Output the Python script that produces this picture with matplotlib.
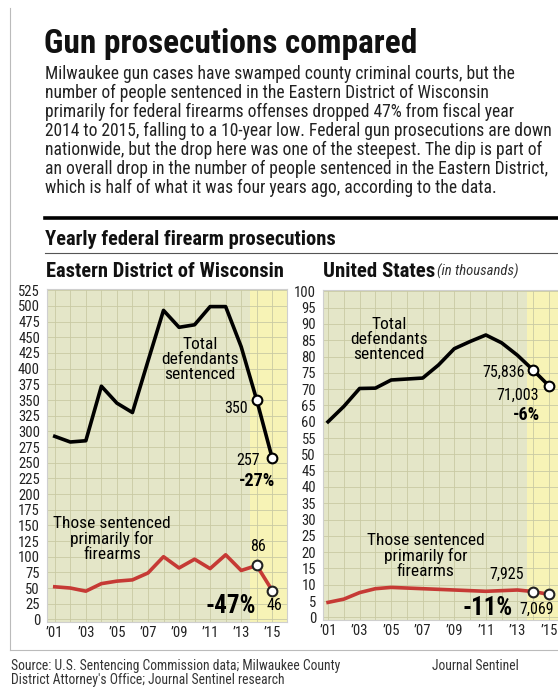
import matplotlib
matplotlib.use("Agg")
import matplotlib.pyplot as plt
from matplotlib.lines import Line2D
from matplotlib import font_manager

names = {f.name for f in font_manager.fontManager.ttflist}
family = [n for n in ["Roboto Condensed", "Liberation Sans Narrow", "DejaVu Sans Condensed",
                      "Roboto", "DejaVu Sans"] if n in names]
plt.rcParams['font.family'] = family

years = list(range(2001, 2016))
tick_years = [2001, 2003, 2005, 2007, 2009, 2011, 2013, 2015]
tick_labels = ["\u201901", "\u201903", "\u201905", "\u201907", "\u201909", "\u201911", "\u201913", "\u201915"]

# Eastern District of Wisconsin
ed_total = [292, 283, 285, 372, 345, 330, 412, 493, 466, 470, 499, 499, 435, 350, 257]
ed_firearms = [52, 50, 45, 57, 61, 63, 74, 100, 82, 96, 81, 103, 78, 86, 46]

# United States, in thousands
us_total = [60.0, 64.7, 70.2, 70.3, 72.8, 73.1, 73.4, 77.4, 82.4, 84.6, 86.6, 84.2, 80.4, 75.836, 71.003]
us_firearms = [4.6, 5.6, 7.6, 8.8, 9.2, 9.0, 8.8, 8.6, 8.4, 8.2, 8.0, 8.2, 8.4, 7.925, 7.069]

W, H = 558, 690
BG = "#e4e6c8"
HL = "#f7f3b6"
GRID = "#c9caa3"
RED = "#c63a35"


def fx(px):
    return px / W


def fy(py):
    return 1 - py / H


fig = plt.figure(figsize=(W / 100, H / 100), dpi=100)
fig.patch.set_facecolor("white")
renderer = fig.canvas.get_renderer()


def fit(txt, width_px):
    # shrink or grow a text so it spans the width seen in the picture
    for _ in range(2):
        bb = txt.get_window_extent(renderer)
        txt.set_fontsize(txt.get_fontsize() * width_px / bb.width)
    return txt


# frame lines
fig.add_artist(Line2D([fx(10), fx(10)], [fy(8), fy(650)], color="#bbbbbb", lw=0.8))
fig.add_artist(Line2D([fx(10), fx(558)], [fy(650), fy(650)], color="#bbbbbb", lw=0.8))
fig.add_artist(Line2D([fx(45), fx(558)], [fy(218), fy(218)], color="black", lw=2.6))
fig.add_artist(Line2D([fx(45), fx(558)], [fy(253), fy(253)], color="#555555", lw=0.8))

t = fig.text(fx(44), fy(53), "Gun prosecutions compared", fontsize=27, fontweight="bold",
             color="#111111", va="baseline")
fit(t, 374)

body = ["Milwaukee gun cases have swamped county criminal courts, but the",
        "number of people sentenced in the Eastern District of Wisconsin",
        "primarily for federal firearms offenses dropped 47% from fiscal year",
        "2014 to 2015, falling to a 10-year low. Federal gun prosecutions are down",
        "nationwide, but the drop here was one of the steepest. The dip is part of",
        "an overall drop in the number of people sentenced in the Eastern District,",
        "which is half of what it was four years ago, according to the data."]
t = fig.text(fx(45), fy(64), body[3], fontsize=10.6, color="#222222", va="top")
fit(t, 508)
bsize = t.get_fontsize()
t.remove()
for i, line in enumerate(body):
    fig.text(fx(45), fy(79 + i * 19), line, fontsize=bsize, color="#222222",
             va="baseline")

t = fig.text(fx(45), fy(245), "Yearly federal firearm prosecutions", fontsize=14,
             fontweight="bold", color="#111111", va="baseline")
fit(t, 290)
t = fig.text(fx(46), fy(277), "Eastern District of Wisconsin", fontsize=11.5,
             fontweight="bold", color="#111111", va="baseline")
fit(t, 238)
t = fig.text(fx(323), fy(277), "United States", fontsize=11.5,
             fontweight="bold", color="#111111", va="baseline")
fit(t, 112)
t = fig.text(fx(437), fy(276), "(in thousands)", fontsize=7.5, style="italic",
             color="#333333", va="baseline")
fit(t, 82)

FOOT = 9.8
fig.text(fx(11), fy(670), "Source: U.S. Sentencing Commission data; Milwaukee County",
         fontsize=FOOT, color="#333333", va="baseline")
fig.text(fx(11), fy(684), "District Attorney's Office; Journal Sentinel research",
         fontsize=FOOT, color="#333333", va="baseline")
fig.text(fx(432), fy(670), "Journal Sentinel", fontsize=FOOT, color="#333333",
         va="baseline")


def style_axes(ax, ymax, ystep, xlim):
    ax.set_facecolor(BG)
    ax.axvspan(2013.6, 2016.5, color=HL, zorder=0, lw=0)
    ax.set_xlim(*xlim)
    ax.set_ylim(-ymax * 0.008, ymax * 1.004)
    ax.set_yticks(range(0, ymax + 1, ystep))
    ax.set_yticklabels([str(v) for v in range(0, ymax + 1, ystep)], fontsize=10.5)
    ax.set_xticks(tick_years)
    ax.set_xticklabels(tick_labels, fontsize=10.5)
    ax.set_xticks(years, minor=True)
    ax.grid(True, which="both", axis="x", color=GRID, lw=0.6, zorder=1)
    ax.grid(True, which="major", axis="y", color=GRID, lw=0.6, zorder=1)
    ax.tick_params(length=0, which="both", colors="#222222")
    ax.tick_params(axis="y", pad=5)
    ax.tick_params(axis="x", pad=3)
    for s in ax.spines.values():
        s.set_color("#cfcfcf")
        s.set_linewidth(0.8)
    ax.set_axisbelow(True)


LBL = 12.5   # line labels
NUM = 11.5   # value labels

# left panel
ax1 = fig.add_axes([fx(47), fy(622), fx(287) - fx(47), fy(289) - fy(622)])
style_axes(ax1, 525, 25, (2000.5, 2015.95))
ax1.plot(years, ed_total, color="black", lw=2.6, zorder=3)
ax1.plot(years, ed_firearms, color=RED, lw=2.6, zorder=3)
ax1.plot(years[-2:], ed_total[-2:], "o", ms=7, mfc="white", mec="black", mew=1.5, zorder=4)
ax1.plot(years[-2:], ed_firearms[-2:], "o", ms=7, mfc="white", mec="#222222", mew=1.5, zorder=4)

ax1.text(2010.35, 414, "Total\ndefendants\nsentenced", ha="center", va="center",
         fontsize=LBL, linespacing=1.0, zorder=5)
ax1.text(2013.45, 337, "350", ha="right", va="center", fontsize=NUM, zorder=5)
ax1.text(2014.2, 254, "257", ha="right", va="center", fontsize=NUM, zorder=5)
ax1.text(2014.05, 221, "-27%", ha="center", va="center", fontsize=13,
         fontweight="bold", zorder=5)
ax1.text(2004.7, 128, "Those sentenced\nprimarily for\nfirearms", ha="center",
         va="center", fontsize=LBL, linespacing=1.0, zorder=5)
ax1.text(2014.1, 117, "86", ha="center", va="center", fontsize=NUM, zorder=5)
ax1.text(2012.3, 22, "-47%", ha="center", va="center", fontsize=18,
         fontweight="bold", zorder=5)
ax1.text(2015.15, 22, "46", ha="center", va="center", fontsize=NUM, zorder=5)

# right panel
ax2 = fig.add_axes([fx(323), fy(620), fx(560) - fx(323), fy(290) - fy(620)])
style_axes(ax2, 100, 5, (2000.68, 2015.7))
ax2.plot(years, us_total, color="black", lw=2.6, zorder=3)
ax2.plot(years, us_firearms, color=RED, lw=2.6, zorder=3)
ax2.plot(years[-2:], us_total[-2:], "o", ms=7, mfc="white", mec="black", mew=1.5, zorder=4)
ax2.plot(years[-2:], us_firearms[-2:], "o", ms=7, mfc="white", mec="#222222", mew=1.5, zorder=4)

ax2.text(2004.85, 85.3, "Total\ndefendants\nsentenced", ha="center", va="center",
         fontsize=LBL, linespacing=1.0, zorder=5)
ax2.text(2013.5, 75.3, "75,836", ha="right", va="center", fontsize=NUM, zorder=5)
ax2.text(2013.0, 68.2, "71,003", ha="center", va="center", fontsize=NUM, zorder=5)
ax2.text(2013.6, 62.0, "-6%", ha="center", va="center", fontsize=13,
         fontweight="bold", zorder=5)
ax2.text(2007.2, 18.8, "Those sentenced\nprimarily for\nfirearms", ha="center",
         va="center", fontsize=LBL, linespacing=1.0, zorder=5)
ax2.text(2012.3, 13.2, "7,925", ha="center", va="center", fontsize=NUM, zorder=5)
ax2.text(2011.1, 3.0, "-11%", ha="center", va="center", fontsize=18,
         fontweight="bold", zorder=5)
ax2.text(2014.2, 2.5, "7,069", ha="center", va="center", fontsize=NUM, zorder=5)

fig.savefig("out.png", dpi=100, facecolor="white")
